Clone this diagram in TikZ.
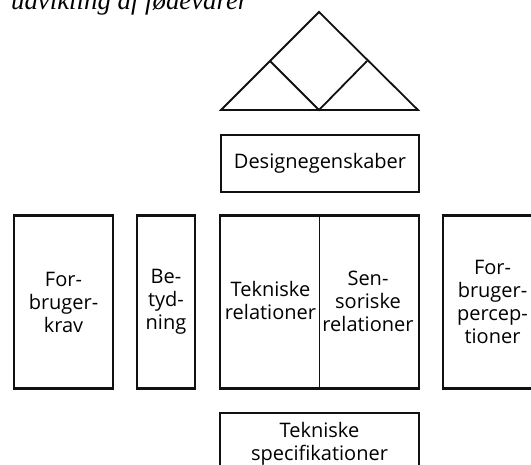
\documentclass[tikz,border=0pt]{standalone}
\usepackage{fontspec}
\setmainfont{Liberation Serif}
\setsansfont{Open Sans}
\usepackage{tikz}
\definecolor{linedraw}{HTML}{111111}
\tikzset{
  blk/.style={rectangle, draw=linedraw, line width=2.2pt, align=center, inner sep=0pt, font=\sffamily\fontsize{20}{23}\selectfont},
  tall/.style={blk, minimum height=173pt},
  lab/.style={align=center, inner sep=0pt, font=\sffamily\fontsize{20}{23}\selectfont},
  thin/.style={line width=1.2pt, draw=linedraw},
  roof/.style={line width=1.8pt, draw=linedraw, line join=miter},
  ttl/.style={inner sep=0pt, font=\itshape\fontsize{26.8}{26.8}\selectfont},
}

\begin{document}
\begin{tikzpicture}[x=1pt, y=-1pt]
  \clip (0,0) rectangle (531,465);
  \node[ttl, anchor=base west] (title) at (11,10) {udvikling af fødevarer};
  % roof
  \coordinate (apex) at (319,12);
  \coordinate (bl) at (221,110);
  \coordinate (br) at (418,110);
  \coordinate (bm) at (319,110);
  \coordinate (lm) at (270,61);
  \coordinate (rm) at (367,61);
  \draw[roof] (bl) -- (apex) -- (br) -- cycle;
  \draw[roof] (lm) -- (bm) -- (rm);
  % boxes
  \node[blk, minimum width=198pt, minimum height=57pt] (design) at (320,163.5) {Designegenskaber};
  \node[tall, minimum width=99pt] (krav) at (63.5,302) {For-\\bruger-\\krav};
  \node[tall, minimum width=58pt] (betyd) at (166,302) {Be-\\tyd-\\ning};
  \node[tall, minimum width=199pt] (rel) at (319.5,302) {};
  \draw[thin] (rel.north) -- (rel.south);
  \node[lab] (tekrel) at (270.5,301) {Tekniske\\relationer};
  \node[lab] (senrel) at (368,301) {Sen-\\soriske\\relationer};
  \node[tall, minimum width=99pt] (percep) at (492.5,302) {For-\\bruger-\\percep-\\tioner};
  \node[blk, minimum width=199pt, minimum height=62pt] (spec) at (319.5,444) {Tekniske\\specifikationer};
\end{tikzpicture}
\end{document}
